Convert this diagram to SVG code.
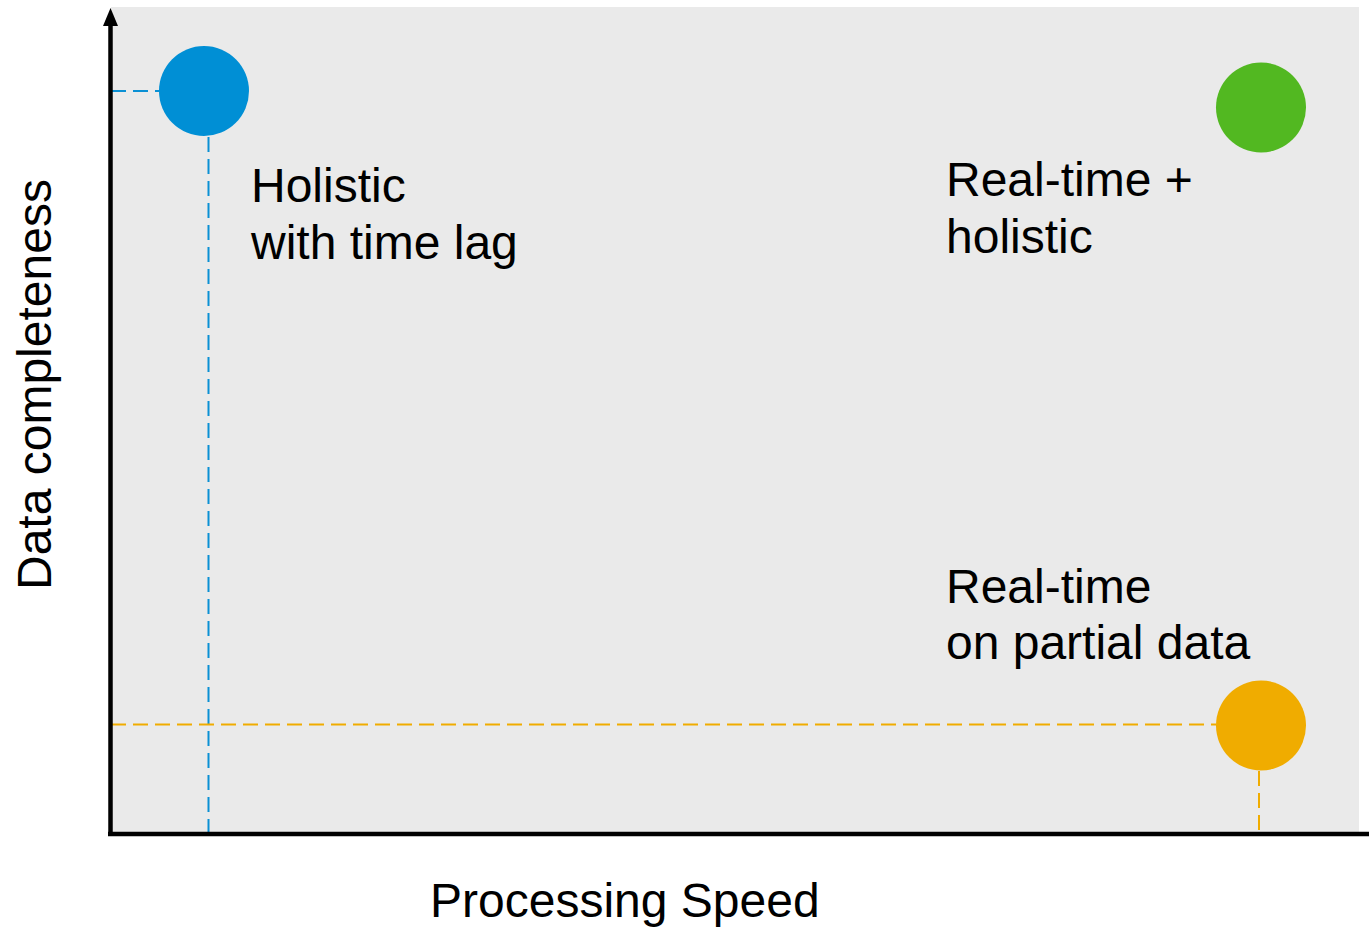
<svg xmlns="http://www.w3.org/2000/svg" width="1369" height="929" viewBox="0 0 1369 929">
  <style>
    .lbl { font-family: "Liberation Sans", Arial, sans-serif; font-size: 48px; fill: #000; }
    .axis { stroke: #000; stroke-width: 4.5; fill: none; }
    .dash { stroke-width: 2; fill: none; stroke-dasharray: 15 7; }
    .blue { stroke: #0A90D4; }
    .orange { stroke: #F0AC00; }
  </style>
  <defs>
    <marker id="arrow" markerUnits="userSpaceOnUse" markerWidth="18" markerHeight="16" refX="1" refY="8" orient="auto" viewBox="0 0 18 16">
      <polygon points="0,0.5 18,8 0,15.5" fill="#000"/>
    </marker>
  </defs>
  <rect x="0" y="0" width="1369" height="929" fill="#fff"/>
  <rect id="plot-area" x="111" y="7" width="1248" height="825" fill="#EAEAEA"/>

  <g id="connectors">
    <path class="dash blue" d="M111 91 H159"/>
    <path class="dash blue" d="M208.5 137 V834"/>
    <path class="dash orange" d="M111 724.5 H1216"/>
    <path class="dash orange" d="M1259 771 V834"/>
  </g>

  <g id="axes">
    <path class="axis" d="M110.5 836 V25" marker-end="url(#arrow)"/>
    <path class="axis" d="M108 834 H1369"/>
  </g>

  <g id="node-holistic-lag">
    <circle cx="204" cy="91" r="45" fill="#008FD5"/>
    <text class="lbl" x="251" y="201.5">Holistic</text>
    <text class="lbl" x="251" y="258.5">with time lag</text>
  </g>

  <g id="node-realtime-holistic">
    <circle cx="1261" cy="107.5" r="45" fill="#52B821"/>
    <text class="lbl" x="946" y="196">Real-time +</text>
    <text class="lbl" x="946" y="252.5">holistic</text>
  </g>

  <g id="node-realtime-partial">
    <circle cx="1261" cy="725.5" r="45" fill="#F0AC00"/>
    <text class="lbl" x="946" y="602.5">Real-time</text>
    <text class="lbl" x="946" y="659">on partial data</text>
  </g>

  <g id="axis-labels">
    <text class="lbl" x="430" y="916.5">Processing Speed</text>
    <text class="lbl" transform="translate(51 590) rotate(-90)">Data completeness</text>
  </g>
</svg>
